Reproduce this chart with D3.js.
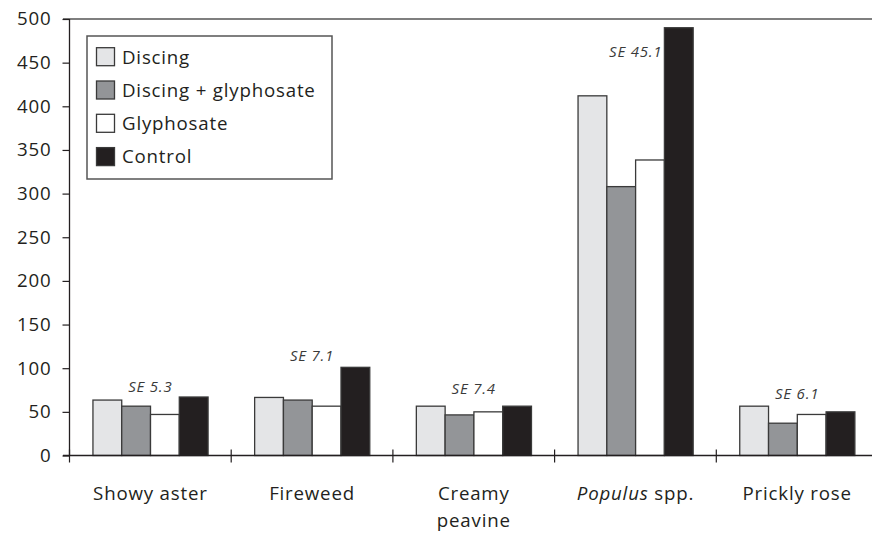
<!DOCTYPE html>
<html>
<head>
<meta charset="utf-8">
<script src="https://cdn.jsdelivr.net/npm/d3@7"></script>
<style>
  body { margin: 0; background: #fff; }
  text { font-family: 'Open Sans', sans-serif; fill: #231f20; }
</style>
</head>
<body>
<script>
// chart data
var categories = ['Showy aster', 'Fireweed', 'Creamy peavine', 'Populus spp.', 'Prickly rose'];
var catLines = [['Showy aster'], ['Fireweed'], ['Creamy', 'peavine'], ['Populus spp.'], ['Prickly rose']];
var series = ['Discing', 'Discing + glyphosate', 'Glyphosate', 'Control'];
var colors = ['#e4e5e7', '#939598', '#ffffff', '#231f20'];

var discing = [63.5, 66.5, 56.5, 412, 56.5];
var discGly = [56.5, 63.5, 46.5, 308, 37];
var glyphosate = [47, 56.5, 50, 338.5, 47];
var control = [67, 101, 56.5, 490, 50];

var seLabels = ['SE 5.3', 'SE 7.1', 'SE 7.4', 'SE 45.1', 'SE 6.1'];
var seAt = [79.5, 114, 77, 463, 71.5];

var yTicks = [0, 50, 100, 150, 200, 250, 300, 350, 400, 450, 500];

var wW = 872, wH = 533;
var values = [discing, discGly, glyphosate, control];
var labelFont = '18.7px', labelSpacing = '0.8px';

var svg = d3.select('body').append('svg')
  .attr('width', wW)
  .attr('height', wH);

var y = d3.scaleLinear().domain([0, 500]).range([455.5, 19]);
var x = d3.scaleBand().domain(categories).range([69.5, 878]).padding(0);
var x1 = d3.scaleBand().domain(series)
  .range([x.bandwidth() * 0.145, x.bandwidth() * 0.857]).padding(0);

// top frame line
svg.append('line')
  .attr('x1', 63).attr('x2', wW)
  .attr('y1', y(500)).attr('y2', y(500))
  .attr('stroke', '#555').attr('stroke-width', 1.5);

// bars
categories.forEach((cat, ci) => {
  var g = svg.append('g').attr('transform', 'translate(' + x(cat) + ',0)');
  series.forEach((s, si) => {
    var v = values[si][ci];
    g.append('rect')
      .attr('x', x1(s))
      .attr('y', y(v))
      .attr('width', x1.bandwidth())
      .attr('height', y(0) - y(v))
      .attr('fill', colors[si])
      .attr('stroke', '#3a3a3a')
      .attr('stroke-width', 1.3);
  });
});

// y axis
var yAxis = svg.append('g')
  .attr('transform', 'translate(69.5,0)')
  .call(d3.axisLeft(y).tickValues(yTicks).tickSize(7).tickPadding(11));
yAxis.select('.domain').attr('stroke', '#231f20').attr('stroke-width', 1.3)
  .attr('d', 'M0,' + y(500) + 'V' + y(0));
yAxis.selectAll('.tick line').attr('stroke', '#231f20').attr('stroke-width', 1.2);
yAxis.selectAll('.tick text')
  .style('font-family', "'Open Sans', sans-serif")
  .style('font-size', labelFont)
  .style('letter-spacing', labelSpacing)
  .attr('fill', '#231f20');

// x axis line with crossing ticks at band edges
svg.append('line')
  .attr('x1', 63).attr('x2', wW)
  .attr('y1', y(0)).attr('y2', y(0))
  .attr('stroke', '#231f20').attr('stroke-width', 1.3);

categories.forEach((cat) => {
  svg.append('line')
    .attr('x1', x(cat)).attr('x2', x(cat))
    .attr('y1', y(0) - 6).attr('y2', y(0) + 7)
    .attr('stroke', '#231f20').attr('stroke-width', 1.2);
});

// category labels
categories.forEach((cat, ci) => {
  var cx = x(cat) + x.bandwidth() / 2;
  var t = svg.append('text')
    .attr('x', cx)
    .attr('y', 499.5)
    .attr('text-anchor', 'middle')
    .style('font-size', labelFont)
    .style('letter-spacing', labelSpacing);
  catLines[ci].forEach((line, li) => {
    var m = line.match(/^(Populus)(.*)$/);
    if (m) {
      t.append('tspan').attr('x', cx).attr('dy', li ? 27 : 0)
        .style('font-style', 'italic').text(m[1]);
      t.append('tspan').text(m[2]);
    } else {
      t.append('tspan').attr('x', cx).attr('dy', li ? 27 : 0).text(line);
    }
  });
});

// SE labels
categories.forEach((cat, ci) => {
  var special = seLabels[ci] == 'SE 45.1';
  var tx = special
    ? x(cat) + x1('Control') - 2
    : x(cat) + x.bandwidth() / 2;
  svg.append('text')
    .attr('x', tx)
    .attr('y', y(seAt[ci]) + 5.5)
    .attr('text-anchor', special ? 'end' : 'middle')
    .style('font-size', '15px')
    .style('letter-spacing', '0.8px')
    .style('font-style', 'italic')
    .style('fill', '#3a3a3a')
    .text(seLabels[ci]);
});

// legend
var legend = svg.append('g');
legend.append('rect')
  .attr('x', 87).attr('y', 36)
  .attr('width', 245).attr('height', 143)
  .attr('fill', '#fff')
  .attr('stroke', '#555').attr('stroke-width', 1.5);

series.forEach((s, si) => {
  var cy = 56.7 + si * 33.3;
  legend.append('rect')
    .attr('x', 96.5).attr('y', cy - 9)
    .attr('width', 18).attr('height', 18)
    .attr('fill', colors[si])
    .attr('stroke', '#3a3a3a').attr('stroke-width', 1.3);
  legend.append('text')
    .attr('x', 122).attr('y', cy + 6.8)
    .style('font-size', labelFont)
    .style('letter-spacing', labelSpacing)
    .text(s);
});
</script>
</body>
</html>
